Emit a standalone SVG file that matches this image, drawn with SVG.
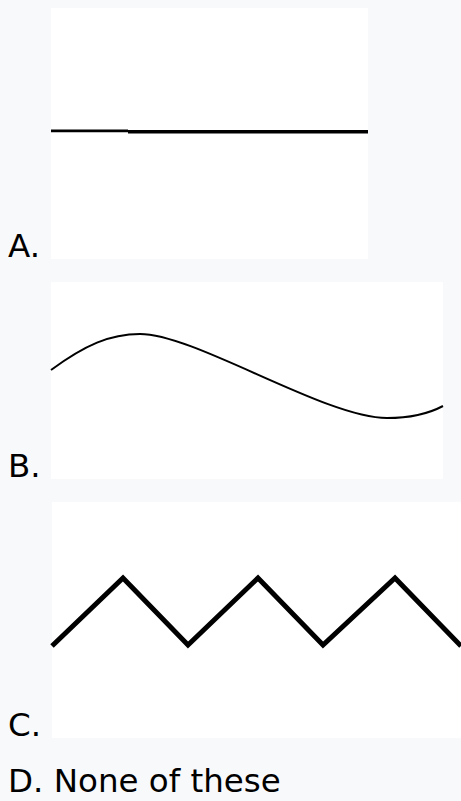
<svg xmlns="http://www.w3.org/2000/svg" width="461" height="801" viewBox="0 0 461 801">
<style>
.lbl{font-family:"DejaVu Sans","Noto Sans",sans-serif;font-size:32.5px;fill:#000}
.panel{fill:#fff}
.ink{fill:none;stroke:#000}
</style>
<rect x="0" y="0" width="461" height="801" fill="#f8f9fa"/>
<g id="optA">
<rect class="panel" x="51" y="8" width="317" height="251"/>
<path class="ink" d="M51,130.8 H128" stroke-width="2.8" stroke="#222"/>
<path class="ink" d="M128,131.8 H368" stroke-width="3.4"/>
<text class="lbl" x="8" y="257">A.</text>
</g>
<g id="optB">
<rect class="panel" x="51" y="282" width="392" height="197"/>
<path class="ink" stroke-width="2" d="M51,370 C85,345 110,334 140,334 C195,334 325,418 387,418 C410,418 428,414 443,406"/>
<text class="lbl" x="8" y="477">B.</text>
</g>
<g id="optC">
<rect class="panel" x="52" y="502" width="409" height="236"/>
<path class="ink" stroke-width="5" stroke-linejoin="miter" d="M52,646 L123,578 L188,645 L258,578 L323,645 L395,578 L461,646"/>
<text class="lbl" x="8" y="736">C.</text>
</g>
<g id="optD">
<text class="lbl" x="8" y="792">D. None of these</text>
</g>
</svg>
